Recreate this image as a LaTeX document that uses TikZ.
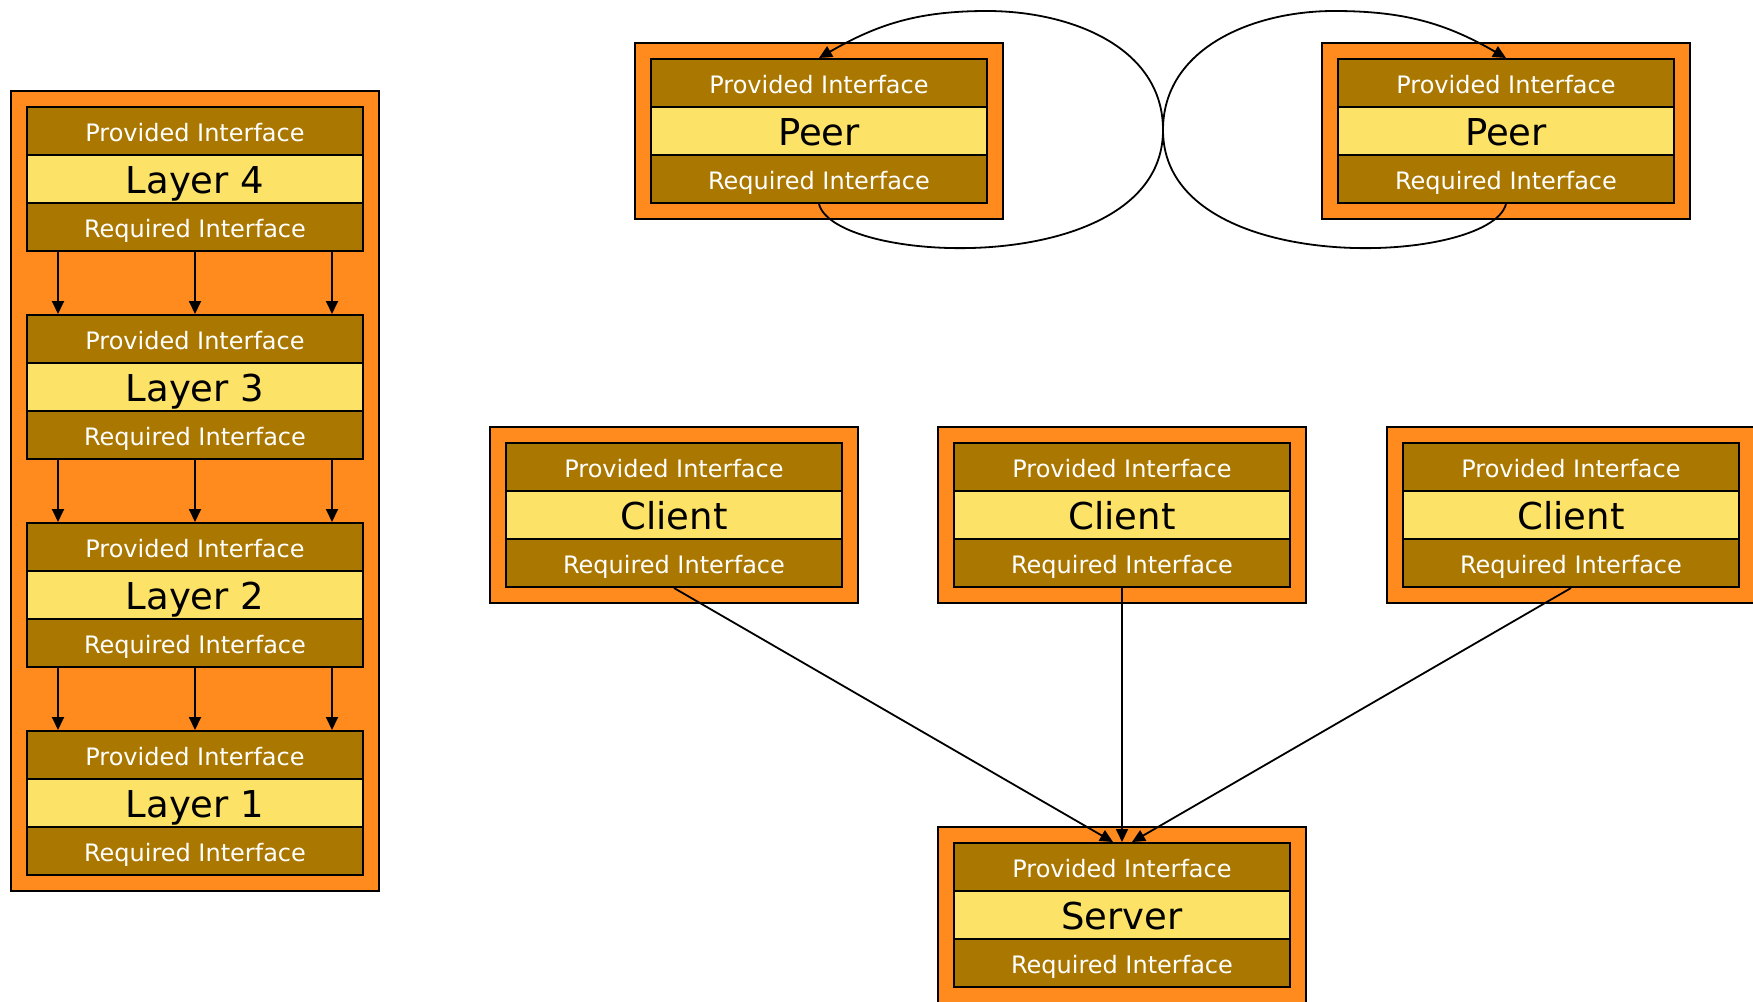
\documentclass[tikz,border=0pt]{standalone}
\usepackage{fontspec}
\setmainfont{DejaVu Sans}
\usetikzlibrary{arrows.meta}
\definecolor{boxorange}{RGB}{255,138,30}
\definecolor{ifgold}{RGB}{170,120,0}
\definecolor{coreyellow}{RGB}{252,226,102}
\tikzset{
	shell/.style={rectangle, draw=black, line width=2pt, fill=boxorange, minimum width=368pt, minimum height=176pt, inner sep=0pt},
	iface/.style={rectangle, draw=black, line width=2pt, fill=ifgold, text=white, minimum width=336pt, minimum height=48pt, inner sep=0pt, font=\fontsize{24}{28}\selectfont, text height=25pt, text depth=3.5pt},
	core/.style={rectangle, draw=black, line width=2pt, fill=coreyellow, minimum width=336pt, minimum height=48pt, inner sep=0pt, font=\fontsize{37}{40}\selectfont, text height=32pt, text depth=4pt},
	link/.style={line width=1.8pt, -{Triangle[length=13pt, width=12pt]}}
}
\begin{document}
\begin{tikzpicture}[x=1pt, y=1pt]
	\useasboundingbox[fill=white] (0,0) rectangle (1753,-1001);
	\def\bands#1#2#3#4{
		\node[iface] (#1-pi) at (#2, -#3-24) {Provided Interface};
		\node[core] (#1-c) at (#2, -#3-72) {#4};
		\node[iface] (#1-ri) at (#2, -#3-120) {Required Interface};
	}
	\def\blk#1#2#3#4{
		\node[shell] (#1) at (#2, -#3-72) {};
		\bands{#1}{#2}{#3}{#4}
	}
	\node[shell, minimum height=800pt] (stack) at (195, -491) {};
	\bands{l4}{195}{107}{Layer 4}
	\bands{l3}{195}{315}{Layer 3}
	\bands{l2}{195}{523}{Layer 2}
	\bands{l1}{195}{731}{Layer 1}
	\blk{p1}{819}{59}{Peer}
	\blk{p2}{1506}{59}{Peer}
	\blk{c1}{674}{443}{Client}
	\blk{c2}{1122}{443}{Client}
	\blk{c3}{1571}{443}{Client}
	\blk{srv}{1122}{843}{Server}
	\foreach \a/\b in {l4/l3, l3/l2, l2/l1} {
		\foreach \dx in {-137, 0, 137} {
			\draw[link] ([xshift=\dx pt]\a-ri.south) -- ([xshift=\dx pt]\b-pi.north);
		}
	}
	\draw[link] (c1-ri.south) -- ([xshift=-9pt]srv-pi.north);
	\draw[link] (c2-ri.south) -- (srv-pi.north);
	\draw[link] (c3-ri.south) -- ([xshift=10pt]srv-pi.north);
	\coordinate (midp) at (1163, -130);
	\coordinate (topl) at (987, -11);
	\coordinate (topr) at (1334, -11);
	\draw[link] (p1-ri.south) .. controls +(16,-62) and +(0,-150) .. (midp) to[out=90, in=180] (topr) to[out=0, in=150] (p2-pi.north);
	\draw[link] (p2-ri.south) .. controls +(-16,-62) and +(0,-150) .. (midp) to[out=90, in=0] (topl) to[out=180, in=30] (p1-pi.north);
\end{tikzpicture}
\end{document}
